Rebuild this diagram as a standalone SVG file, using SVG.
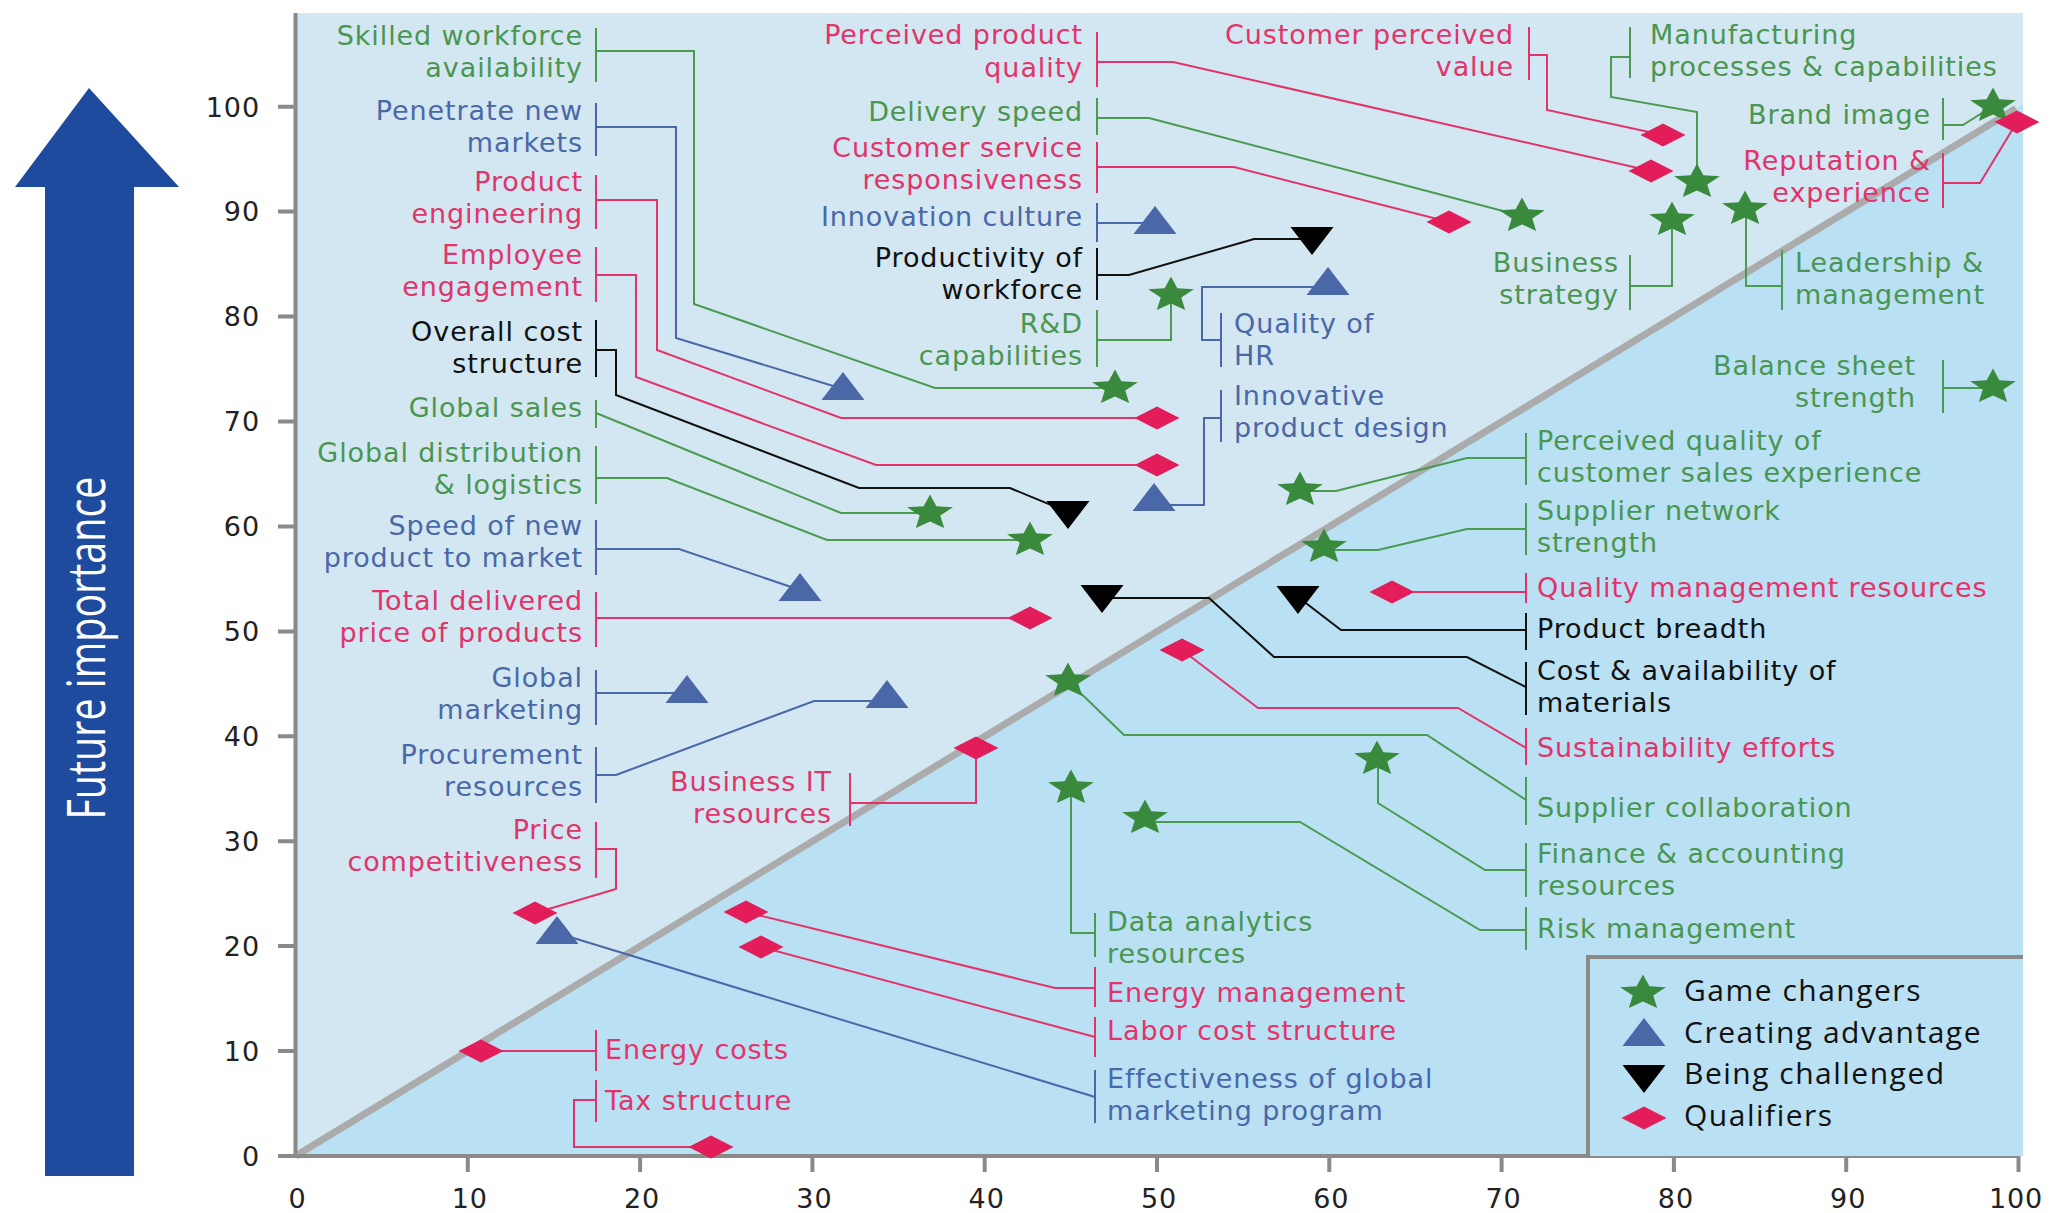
<svg xmlns="http://www.w3.org/2000/svg" width="2055" height="1213" viewBox="0 0 2055 1213">
<style>
text{font-family:"DejaVu Sans","Open Sans",sans-serif;font-size:27px;letter-spacing:0.9px}
.e{text-anchor:end}
.tg{fill:#4a9650}.tb{fill:#4a68a8}.tr{fill:#e3336b}.tk{fill:#111}
.c{fill:none;stroke-width:2}
.cg{stroke:#4a9a50}.cb{stroke:#4a68a8}.cr{stroke:#e3336b}.ck{stroke:#111}
.ax{font-family:"Open Sans",sans-serif;font-size:28px;fill:#222;letter-spacing:4px}
.tick{stroke:#8a8a8a;stroke-width:4}
.lg{fill:#111;font-family:"Open Sans",sans-serif;font-size:30px;letter-spacing:1.5px}
</style>
<defs>
<polygon id="star" transform="scale(1.3,1)" points="0,-18.5 4.9,-6.8 17.6,-5.7 7.9,2.6 10.9,15 0,8.4 -10.9,15 -7.9,2.6 -17.6,-5.7 -4.9,-6.8" fill="#3a8a3e"/>
<polygon id="up" points="0,-17 21.5,11 -21.5,11" fill="#4a68a8"/>
<polygon id="dn" points="-21.5,-11 21.5,-11 0,17" fill="#000"/>
<polygon id="dia" points="-22.5,0 0,-11.5 22.5,0 0,11.5" fill="#e21d5a"/>
</defs>
<rect width="2055" height="1213" fill="#fff"/>
<g id="arrow">
<polygon points="89,88 179,187 134,187 134,1176 45,1176 45,187 15,187" fill="#1e4b9e"/>
<text transform="translate(105,648) scale(1.3,1) rotate(-90)" text-anchor="middle" textLength="343" lengthAdjust="spacingAndGlyphs" style="font-family:'Open Sans',sans-serif;font-size:41px;letter-spacing:0" fill="#fff">Future importance</text>
</g>
<g id="plot">
<rect x="295" y="13" width="1728" height="1143" fill="#d2e7f1"/>
<polygon points="295.5,1156 2023,104.3 2023,1156" fill="#b9e0f3"/>
<line x1="295.5" y1="1156" x2="2016" y2="108.5" stroke="#ababab" stroke-width="7"/>
<path d="M295.5 13V1156H2020" stroke="#8a8a8a" stroke-width="4" fill="none"/>
<path class="tick" d="M278 1156H296M278 1051.1H296M278 946.1H296M278 841.2H296M278 736.3H296M278 631.4H296M278 526.4H296M278 421.5H296M278 316.6H296M278 211.6H296M278 106.7H296M467.8 1156V1172M640.1 1156V1172M812.4 1156V1172M984.7 1156V1172M1157 1156V1172M1329.3 1156V1172M1501.6 1156V1172M1673.9 1156V1172M1846.2 1156V1172M2018.5 1156V1172"/>
<g class="ax e">
<text x="260" y="1166">0</text><text x="260" y="1061">10</text><text x="260" y="956">20</text><text x="260" y="851">30</text><text x="260" y="746">40</text><text x="260" y="641">50</text><text x="260" y="536">60</text><text x="260" y="431">70</text><text x="260" y="326">80</text><text x="260" y="221">90</text><text x="260" y="117">100</text>
</g>
<g class="ax" text-anchor="middle">
<text x="297.5" y="1208">0</text><text x="469.8" y="1208">10</text><text x="642.1" y="1208">20</text><text x="814.4" y="1208">30</text><text x="986.7" y="1208">40</text><text x="1159" y="1208">50</text><text x="1331.3" y="1208">60</text><text x="1503.6" y="1208">70</text><text x="1675.9" y="1208">80</text><text x="1848.2" y="1208">90</text><text x="2016" y="1208">100</text>
</g>
</g>
<g id="connectors">
<path class="c cg" d="M596 51H694V304L935 388H1115"/>
<path class="c cb" d="M596 127H676V338L843 389"/>
<path class="c cr" d="M596 200H657V350L841 418H1157"/>
<path class="c cr" d="M596 275H636V377L876 465H1157"/>
<path class="c ck" d="M596 350H616V395L859 488H1010L1068 512"/>
<path class="c cg" d="M596 413L841 513H930"/>
<path class="c cg" d="M596 478H667L827 540H1030"/>
<path class="c cb" d="M596 549H679L800 590"/>
<path class="c cr" d="M596 618H1030"/>
<path class="c cb" d="M596 693H687"/>
<path class="c cb" d="M596 775H616L814 701H887"/>
<path class="c cr" d="M596 849H616V889L535 913"/>
<path class="c cr" d="M596 1051H481"/>
<path class="c cr" d="M596 1100H574V1147H711"/>
<path class="c cr" d="M1097 62H1173L1651 171"/>
<path class="c cg" d="M1097 118H1149L1522 216"/>
<path class="c cr" d="M1097 167H1234L1449 222"/>
<path class="c cb" d="M1097 223H1155"/>
<path class="c ck" d="M1097 275H1129L1254 239H1312"/>
<path class="c cg" d="M1097 340H1171V295"/>
<path class="c cb" d="M1221 340H1202V287H1328"/>
<path class="c cb" d="M1221 418H1204V505H1152"/>
<path class="c cr" d="M1529 55H1547V110L1663 135"/>
<path class="c cg" d="M1630 57H1611V97L1697 112V182"/>
<path class="c cg" d="M1943 125H1963L1993 106"/>
<path class="c cr" d="M1943 183H1980L2017 122"/>
<path class="c cg" d="M1630 286H1672V220"/>
<path class="c cg" d="M1782 286H1746V209"/>
<path class="c cg" d="M1943 388H1993"/>
<path class="c cg" d="M1526 458H1467L1336 491H1300"/>
<path class="c cg" d="M1526 529H1467L1378 550H1324"/>
<path class="c cr" d="M1526 592H1392"/>
<path class="c ck" d="M1526 630H1341L1298 597"/>
<path class="c ck" d="M1526 687L1467 657H1274L1209 598H1102"/>
<path class="c cr" d="M1526 748L1458 708H1258L1182 650"/>
<path class="c cg" d="M1526 800L1427 735H1124L1068 681"/>
<path class="c cg" d="M1526 870H1485L1378 803V759"/>
<path class="c cg" d="M1526 930H1480L1300 822H1145"/>
<path class="c cg" d="M1095 933H1071V788"/>
<path class="c cr" d="M1095 988H1055L746 912"/>
<path class="c cr" d="M1095 1037L761 947"/>
<path class="c cb" d="M1095 1097L557 933"/>
<path class="c cr" d="M850 803H976V748"/>
</g>
<g id="n-skilled"><path class="c cg" d="M596 28V82"/><text class="tg e" x="583" y="45">Skilled workforce</text><text class="tg e" x="583" y="77">availability</text><use href="#star" x="1115" y="388"/></g>
<g id="n-penetrate"><path class="c cb" d="M596 103V156"/><text class="tb e" x="583" y="120">Penetrate new</text><text class="tb e" x="583" y="152">markets</text><use href="#up" x="843" y="389"/></g>
<g id="n-prodeng"><path class="c cr" d="M596 175V229"/><text class="tr e" x="583" y="191">Product</text><text class="tr e" x="583" y="223">engineering</text><use href="#dia" x="1157" y="418"/></g>
<g id="n-employee"><path class="c cr" d="M596 247V302"/><text class="tr e" x="583" y="264">Employee</text><text class="tr e" x="583" y="296">engagement</text><use href="#dia" x="1157" y="465"/></g>
<g id="n-overall"><path class="c ck" d="M596 320V377"/><text class="tk e" x="583" y="341">Overall cost</text><text class="tk e" x="583" y="373">structure</text><use href="#dn" x="1068" y="512"/></g>
<g id="n-globalsales"><path class="c cg" d="M596 400V428"/><text class="tg e" x="583" y="417">Global sales</text><use href="#star" x="930" y="513"/></g>
<g id="n-globaldist"><path class="c cg" d="M596 446V504"/><text class="tg e" x="583" y="462">Global distribution</text><text class="tg e" x="583" y="494">&amp; logistics</text><use href="#star" x="1030" y="540"/></g>
<g id="n-speed"><path class="c cb" d="M596 520V575"/><text class="tb e" x="583" y="535">Speed of new</text><text class="tb e" x="583" y="567">product to market</text><use href="#up" x="800" y="590"/></g>
<g id="n-total"><path class="c cr" d="M596 592V647"/><text class="tr e" x="583" y="610">Total delivered</text><text class="tr e" x="583" y="642">price of products</text><use href="#dia" x="1030" y="618"/></g>
<g id="n-gmkt"><path class="c cb" d="M596 670V725"/><text class="tb e" x="583" y="687">Global</text><text class="tb e" x="583" y="719">marketing</text><use href="#up" x="687" y="692"/></g>
<g id="n-proc"><path class="c cb" d="M596 747V803"/><text class="tb e" x="583" y="764">Procurement</text><text class="tb e" x="583" y="796">resources</text><use href="#up" x="887" y="697"/></g>
<g id="n-price"><path class="c cr" d="M596 822V878"/><text class="tr e" x="583" y="839">Price</text><text class="tr e" x="583" y="871">competitiveness</text><use href="#dia" x="535" y="913"/></g>
<g id="n-energycosts"><path class="c cr" d="M596 1030V1071"/><text class="tr" x="605" y="1059">Energy costs</text><use href="#dia" x="481" y="1051"/></g>
<g id="n-tax"><path class="c cr" d="M596 1080V1122"/><text class="tr" x="605" y="1110">Tax structure</text><use href="#dia" x="711" y="1147"/></g>
<g id="n-ppq"><path class="c cr" d="M1097 32V87"/><text class="tr e" x="1083" y="44">Perceived product</text><text class="tr e" x="1083" y="77">quality</text><use href="#dia" x="1651" y="171"/></g>
<g id="n-delivery"><path class="c cg" d="M1097 98V135"/><text class="tg e" x="1083" y="121">Delivery speed</text><use href="#star" x="1522" y="216"/></g>
<g id="n-custserv"><path class="c cr" d="M1097 142V193"/><text class="tr e" x="1083" y="157">Customer service</text><text class="tr e" x="1083" y="189">responsiveness</text><use href="#dia" x="1449" y="222"/></g>
<g id="n-innov"><path class="c cb" d="M1097 203V242"/><text class="tb e" x="1083" y="226">Innovation culture</text><use href="#up" x="1155" y="223"/></g>
<g id="n-productivity"><path class="c ck" d="M1097 248V300"/><text class="tk e" x="1083" y="267">Productivity of</text><text class="tk e" x="1083" y="299">workforce</text><use href="#dn" x="1312" y="238"/></g>
<g id="n-rd"><path class="c cg" d="M1097 310V367"/><text class="tg e" x="1083" y="333">R&amp;D</text><text class="tg e" x="1083" y="365">capabilities</text><use href="#star" x="1171" y="295"/></g>
<g id="n-hr"><path class="c cb" d="M1221 313V367"/><text class="tb" x="1234" y="333">Quality of</text><text class="tb" x="1234" y="365">HR</text><use href="#up" x="1328" y="284"/></g>
<g id="n-innovdesign"><path class="c cb" d="M1221 390V442"/><text class="tb" x="1234" y="405">Innovative</text><text class="tb" x="1234" y="437">product design</text><use href="#up" x="1154" y="500"/></g>
<g id="n-cpv"><path class="c cr" d="M1529 27V80"/><text class="tr e" x="1514" y="44">Customer perceived</text><text class="tr e" x="1514" y="76">value</text><use href="#dia" x="1663" y="135"/></g>
<g id="n-manuf"><path class="c cg" d="M1630 27V78"/><text class="tg" x="1650" y="44">Manufacturing</text><text class="tg" x="1650" y="76">processes &amp; capabilities</text><use href="#star" x="1697" y="182"/></g>
<g id="n-brand"><path class="c cg" d="M1943 98V140"/><text class="tg e" x="1931" y="124">Brand image</text><use href="#star" x="1993" y="106"/></g>
<g id="n-reput"><path class="c cr" d="M1943 153V208"/><text class="tr e" x="1931" y="170">Reputation &amp;</text><text class="tr e" x="1931" y="202">experience</text><use href="#dia" x="2017" y="122"/></g>
<g id="n-bizstrat"><path class="c cg" d="M1630 255V310"/><text class="tg e" x="1619" y="272">Business</text><text class="tg e" x="1619" y="304">strategy</text><use href="#star" x="1672" y="220"/></g>
<g id="n-leader"><path class="c cg" d="M1782 250V310"/><text class="tg" x="1795" y="272">Leadership &amp;</text><text class="tg" x="1795" y="304">management</text><use href="#star" x="1745" y="209"/></g>
<g id="n-balance"><path class="c cg" d="M1943 360V413"/><text class="tg e" x="1916" y="375">Balance sheet</text><text class="tg e" x="1916" y="407">strength</text><use href="#star" x="1993" y="387"/></g>
<g id="n-pqcse"><path class="c cg" d="M1526 433V485"/><text class="tg" x="1537" y="450">Perceived quality of</text><text class="tg" x="1537" y="482">customer sales experience</text><use href="#star" x="1300" y="490"/></g>
<g id="n-suppnet"><path class="c cg" d="M1526 503V555"/><text class="tg" x="1537" y="520">Supplier network</text><text class="tg" x="1537" y="552">strength</text><use href="#star" x="1324" y="547"/></g>
<g id="n-qm"><path class="c cr" d="M1526 573V603"/><text class="tr" x="1537" y="597">Quality management resources</text><use href="#dia" x="1392" y="592"/></g>
<g id="n-breadth"><path class="c ck" d="M1526 613V650"/><text class="tk" x="1537" y="638">Product breadth</text><use href="#dn" x="1298" y="597"/></g>
<g id="n-costavail"><path class="c ck" d="M1526 662V715"/><text class="tk" x="1537" y="680">Cost &amp; availability of</text><text class="tk" x="1537" y="712">materials</text><use href="#dn" x="1102" y="596"/></g>
<g id="n-sustain"><path class="c cr" d="M1526 728V765"/><text class="tr" x="1537" y="757">Sustainability efforts</text><use href="#dia" x="1182" y="650"/></g>
<g id="n-suppcollab"><path class="c cg" d="M1526 777V825"/><text class="tg" x="1537" y="817">Supplier collaboration</text><use href="#star" x="1068" y="681"/></g>
<g id="n-finance"><path class="c cg" d="M1526 843V897"/><text class="tg" x="1537" y="863">Finance &amp; accounting</text><text class="tg" x="1537" y="895">resources</text><use href="#star" x="1377" y="759"/></g>
<g id="n-risk"><path class="c cg" d="M1526 907V950"/><text class="tg" x="1537" y="938">Risk management</text><use href="#star" x="1145" y="818"/></g>
<g id="n-data"><path class="c cg" d="M1095 913V957"/><text class="tg" x="1107" y="931">Data analytics</text><text class="tg" x="1107" y="963">resources</text><use href="#star" x="1071" y="788"/></g>
<g id="n-energymgmt"><path class="c cr" d="M1095 967V1007"/><text class="tr" x="1107" y="1002">Energy management</text><use href="#dia" x="746" y="912"/></g>
<g id="n-labor"><path class="c cr" d="M1095 1017V1057"/><text class="tr" x="1107" y="1040">Labor cost structure</text><use href="#dia" x="761" y="947"/></g>
<g id="n-effect"><path class="c cb" d="M1095 1070V1123"/><text class="tb" x="1107" y="1088">Effectiveness of global</text><text class="tb" x="1107" y="1120">marketing program</text><use href="#up" x="557" y="933"/></g>
<g id="n-bizit"><path class="c cr" d="M850 773V826"/><text class="tr e" x="832" y="791">Business IT</text><text class="tr e" x="832" y="823">resources</text><use href="#dia" x="976" y="748"/></g>
<g id="legend">
<rect x="1588" y="957" width="435" height="199" fill="#b9e0f3"/>
<path d="M1588 1156V957H2023" stroke="#8a8a8a" stroke-width="4" fill="none"/>
<use href="#star" x="1643" y="993"/><text class="lg" x="1684" y="1001">Game changers</text>
<use href="#up" x="1644" y="1035"/><text class="lg" x="1684" y="1043">Creating advantage</text>
<use href="#dn" x="1644" y="1076"/><text class="lg" x="1684" y="1084">Being challenged</text>
<use href="#dia" x="1644" y="1118"/><text class="lg" x="1684" y="1126">Qualifiers</text>
</g>
</svg>
